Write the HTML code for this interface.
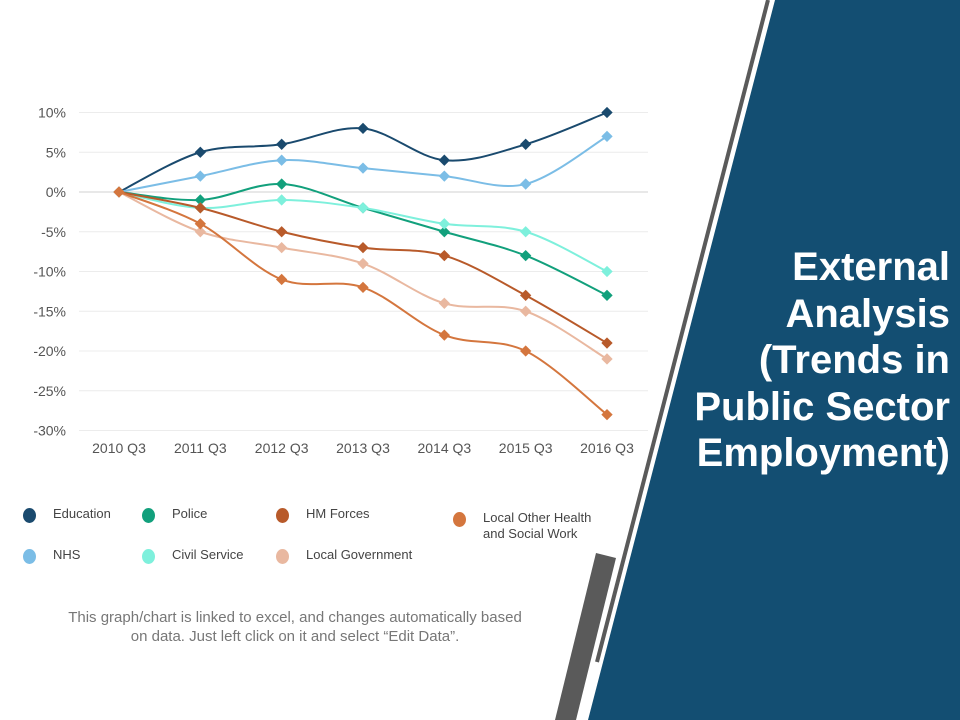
<!DOCTYPE html>
<html><head><meta charset="utf-8"><style>
body{margin:0;width:960px;height:720px;overflow:hidden;background:#fff;font-family:"Liberation Sans",sans-serif;position:relative}
svg{position:absolute;left:0;top:0}
.leg{position:absolute;font-size:13px;color:#444;line-height:16px}
.dot{position:absolute;width:13px;height:15px;border-radius:50%}
#title{position:absolute;right:10px;top:244px;width:300px;text-align:right;color:#fff;font-weight:bold;font-size:40px;line-height:46.5px}
#note{position:absolute;left:60px;top:608px;width:470px;text-align:center;font-size:15px;color:#777;line-height:19px}
</style></head><body>
<svg width="960" height="720">
<polygon points="775,0 960,0 960,720 588,720" fill="#134e72"/>
<line x1="768" y1="0" x2="597" y2="662" stroke="#5a5a5a" stroke-width="4"/>
<polygon points="596,553 616,558 576,720 555,720" fill="#5a5a5a"/>
<g id="grid"></g><g id="lines"></g>
</svg>
<div id="title">External Analysis (Trends in Public Sector Employment)</div>
<div id="legend"></div>
<div id="note">This graph/chart is linked to excel, and changes automatically based on data. Just left click on it and select “Edit Data”.</div>
<script>
const categories=["2010 Q3","2011 Q3","2012 Q3","2013 Q3","2014 Q3","2015 Q3","2016 Q3"];
const yTicks=[10,5,0,-5,-10,-15,-20,-25,-30];
const seriesNames=["Education","NHS","Police","Civil Service","HM Forces","Local Government","Local Other Health and Social Work"];
const education=[0,5,6,8,4,6,10];
const nhs=[0,2,4,3,2,1,7];
const police=[0,-1,1,-2,-5,-8,-13];
const civilService=[0,-2,-1,-2,-4,-5,-10];
const hmForces=[0,-2,-5,-7,-8,-13,-19];
const localGov=[0,-5,-7,-9,-14,-15,-21];
const localOther=[0,-4,-11,-12,-18,-20,-28];
const colors=["#1a4a6e","#7bbde6","#12a07c","#7ef0dc","#b85a2a","#e9b8a0","#d4763e"];
const data=[education,nhs,police,civilService,hmForces,localGov,localOther];
const NS="http://www.w3.org/2000/svg";
const xS=i=>119+i*(607-119)/(categories.length-1);
const yS=v=>192-v*7.95;
function mk(tag,attrs,parent){const e=document.createElementNS(NS,tag);for(const k in attrs)e.setAttribute(k,attrs[k]);parent.appendChild(e);return e;}
const grid=document.getElementById('grid');
yTicks.forEach(t=>{
 const l=mk('line',{x1:79,x2:648,y1:yS(t),y2:yS(t),stroke:t===0?'#d0d0d0':'#ececec','stroke-width':1},grid);
 
 
 const tx=mk('text',{x:66,y:yS(t)+5,'text-anchor':'end','font-size':14,fill:'#555'},grid);
 tx.textContent=t+'%';
 
 
});
categories.forEach((c,i)=>{
 const tx=mk('text',{x:xS(i),y:453,'text-anchor':'middle','font-size':14,fill:'#555'},grid);
 tx.textContent=c;
 
 
});
const lines=document.getElementById('lines');
data.forEach((s,k)=>{
 const p=s.map((v,i)=>[xS(i),yS(v)]);
 let d='M'+p[0][0]+','+p[0][1];
 for(let i=0;i<p.length-1;i++){
  const p0=p[i-1]||p[i],p1=p[i],p2=p[i+1],p3=p[i+2]||p2;
  const c1=[p1[0]+(p2[0]-p0[0])/6,p1[1]+(p2[1]-p0[1])/6],c2=[p2[0]-(p3[0]-p1[0])/6,p2[1]-(p3[1]-p1[1])/6];
  d+=`C${c1[0]},${c1[1]} ${c2[0]},${c2[1]} ${p2[0]},${p2[1]}`;
 }
 const path=mk('path',{d:d,fill:'none',stroke:colors[k],'stroke-width':2},lines);
 
 
 p.forEach(q=>{
  const m=mk('rect',{x:q[0]-4,y:q[1]-4,width:8,height:8,fill:colors[k],transform:`rotate(45 ${q[0]} ${q[1]})`},lines);
  
  
 });
});
const legPos=[[23,506],[23,547],[142,506],[142,547],[276,506],[276,547],[453,510]];
const legend=document.getElementById('legend');
seriesNames.forEach((n,k)=>{
 const e=document.createElement('div');
 
 
 e.innerHTML=`<div class="dot" style="left:${legPos[k][0]}px;top:${legPos[k][1]+2}px;background:${colors[k]}"></div><div class="leg" style="left:${legPos[k][0]+30}px;top:${legPos[k][1]}px;width:${k===6?130:150}px">${n}</div>`;
 legend.appendChild(e);
});
</script>
</body></html>
